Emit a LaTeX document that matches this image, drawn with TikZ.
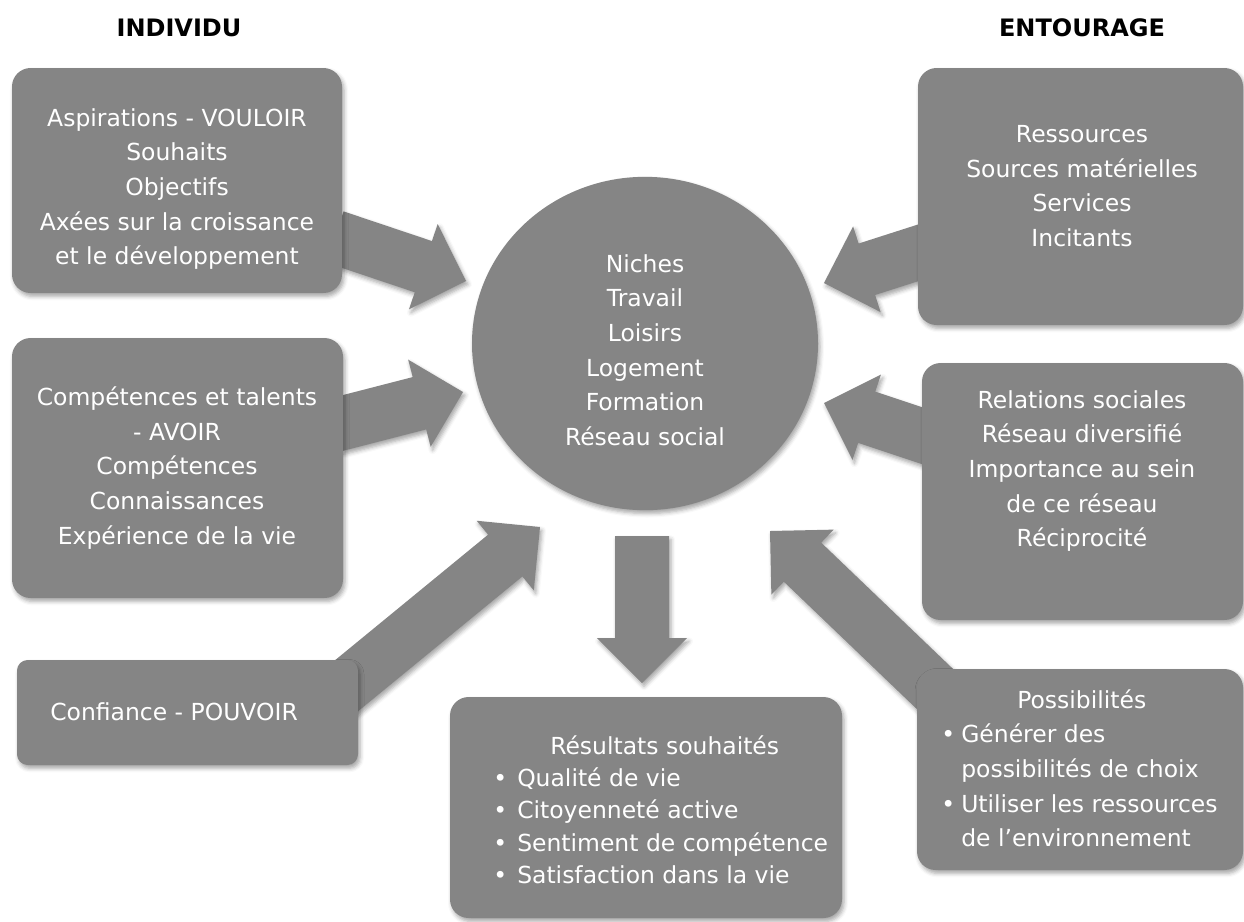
\documentclass[tikz,border=0pt]{standalone}
\usepackage{fontspec}
\setmainfont{DejaVu Sans}
\usepackage{tikz}
\usetikzlibrary{calc}
\usetikzlibrary{fit}
\usetikzlibrary{shapes.geometric}
\usetikzlibrary{shadows.blur}
\definecolor{boxgray}{RGB}{133,133,133}
\tikzset{
  softshadow/.style={blur shadow={shadow xshift=1.5pt, shadow yshift=-2.5pt,
      shadow blur radius=3pt, shadow opacity=35}},
  box/.style={fill=boxgray, rounded corners=14pt, inner sep=0pt, softshadow},
  txt/.style={text=white, align=center, inner sep=0pt,
      font=\fontsize{17.6pt}{26pt}\selectfont},
  heading/.style={text=black, inner sep=0pt, font=\bfseries\fontsize{18pt}{22pt}\selectfont}
}
\newcommand\fatarrow[2]{
  \coordinate (hb) at ($(#2)!33.75pt!(#1)$);
  \fill[boxgray, softshadow]
    ($(#1)!20.25pt!90:(#2)$) -- ($(hb)!20.25pt!90:(#2)$) -- ($(hb)!33.75pt!90:(#2)$) -- (#2)
    -- ($(hb)!33.75pt!-90:(#2)$) -- ($(hb)!20.25pt!-90:(#2)$) -- ($(#1)!20.25pt!-90:(#2)$) -- cycle;
}
\newcommand\bul{\makebox[18pt][l]{•}}

\begin{document}
\begin{tikzpicture}[x=0.75pt, y=-0.75pt]
  \useasboundingbox (0,0) rectangle (1244,921);

  % ends of the big arrows
  \coordinate (aspOut) at (335,237);   \coordinate (aspIn) at (466,281);
  \coordinate (compOut) at (335,425);  \coordinate (compIn) at (463,392);
  \coordinate (confOut) at (334,696);  \coordinate (confIn) at (540,527);
  \coordinate (ressOut) at (930,249);  \coordinate (ressIn) at (824,283);
  \coordinate (relOut) at (935,440);   \coordinate (relIn) at (824,403);
  \coordinate (possOut) at (960,713);  \coordinate (possIn) at (770,531);
  \coordinate (nicheOut) at (642,536); \coordinate (resIn) at (642,683);

  \fatarrow{aspOut}{aspIn}
  \fatarrow{compOut}{compIn}
  \fatarrow{confOut}{confIn}
  \fatarrow{ressOut}{ressIn}
  \fatarrow{relOut}{relIn}
  \fatarrow{possOut}{possIn}
  \fatarrow{nicheOut}{resIn}

  % boxes
  \node[box, fit={(12,68) (342,293)}] (asp) {};
  \node[box, fit={(12,338) (343,598)}] (comp) {};
  \node[box, rounded corners=8pt, fit={(17,660) (358,765)}] (conf) {};
  \node[box, fit={(450,697) (842,918)}] (res) {};
  \node[box, fit={(918,68) (1243,325)}] (ress) {};
  \node[box, fit={(922,363) (1243,620)}] (rel) {};
  \node[box, fit={(917,669) (1243,870)}] (poss) {};
  \node[ellipse, fill=boxgray, inner sep=0pt, softshadow,
        minimum width=259.5pt, minimum height=250pt] (niche) at (645,343.5) {};

  % titles
  \node[heading, anchor=base] (indiv) at (179,36) {INDIVIDU};
  \node[heading, anchor=base] (entour) at (1082,36) {ENTOURAGE};

  % texts
  \node[txt] (aspT) at (177,189) {Aspirations - VOULOIR\\Souhaits\\Objectifs\\Axées sur la croissance\\et le développement};
  \node[txt] (compT) at (177,468) {Compétences et talents\\- AVOIR\\Compétences\\Connaissances\\Expérience de la vie};
  \node[txt, anchor=base west] (confT) at (50,720) {Confiance - POUVOIR};
  \node[txt] (nicheT) at (645,350) {Niches\\Travail\\Loisirs\\Logement\\Formation\\Réseau social};
  \node[txt] (ressT) at (1082,186) {Ressources\\Sources matérielles\\Services\\Incitants};
  \node[txt] (relT) at (1082,471) {Relations sociales\\Réseau diversifié\\Importance au sein\\de ce réseau\\Réciprocité};
  \node[txt, align=left, anchor=north west, font=\fontsize{17.6pt}{24.3pt}\selectfont] (resT) at (493,735)
    {\hspace*{42.75pt}Résultats souhaités\\\bul Qualité de vie\\\bul Citoyenneté active\\\bul Sentiment de compétence\\\bul Satisfaction dans la vie};
  \node[txt, align=left, anchor=north west] (possT) at (941,689)
    {\hspace*{57pt}Possibilités\\\makebox[15pt][l]{•}Générer des\\\hspace*{15pt}possibilités de choix\\\makebox[15pt][l]{•}Utiliser les ressources\\\hspace*{15pt}de l’environnement};
\end{tikzpicture}
\end{document}
